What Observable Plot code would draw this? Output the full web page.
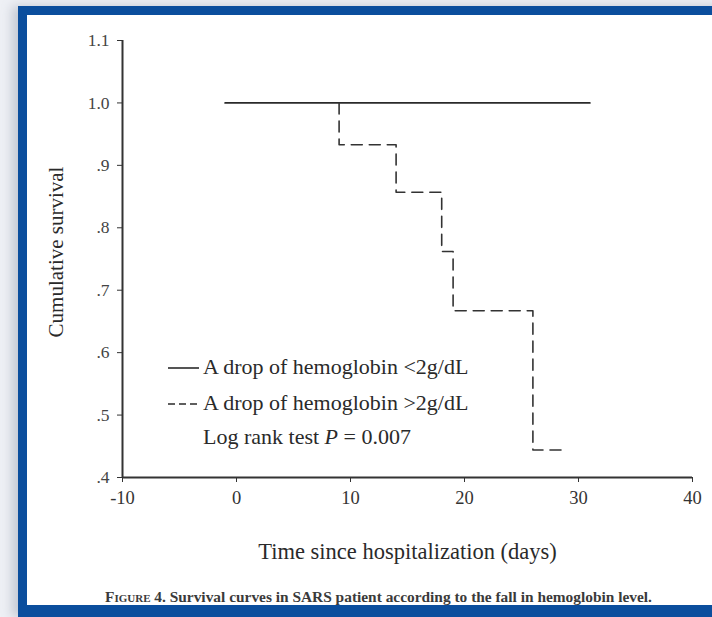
<!DOCTYPE html>
<html>
<head>
<meta charset="utf-8">
<script src="https://cdn.jsdelivr.net/npm/d3@7"></script>
<script src="https://cdn.jsdelivr.net/npm/@observablehq/plot@0.6"></script>
<style>
  html, body { margin: 0; padding: 0; width: 712px; height: 617px; overflow: hidden; background: #eef0f5; }
  #frame { position: absolute; left: 18px; top: 6px; width: 720px; height: 590px; background: #fff;
           border-left: 9px solid #0b4e9d; border-top: 9px solid #0b4e9d; border-bottom: 12px solid #0b4e9d;
           box-shadow: -6px 0 10px rgba(120,130,150,0.35); }
  #chart { position: absolute; left: 0; top: 0; }
  #chart svg { overflow: visible; }
  #legend { position: absolute; left: 0; top: 0; }
  #caption { position: absolute; left: 0; width: 757px; top: 588px; text-align: center; font-family: "Liberation Serif", serif; font-size: 15.4px; font-weight: bold; color: #3a3a3a; }
  #caption .fig { font-variant: small-caps; }
</style>
</head>
<body>
<div id="frame"></div>
<div id="chart"></div>
<svg id="legend" width="712" height="617"></svg>
<div id="caption"><span class="fig">Figure</span> 4. Survival curves in SARS patient according to the fall in hemoglobin level.</div>
<script>
// Data
const xTicks = [-10, 0, 10, 20, 30, 40];
const yTicks = [0.4, 0.5, 0.6, 0.7, 0.8, 0.9, 1.0, 1.1];

const lowDropDays = [-1, 31];
const lowDropSurvival = [1.0, 1.0];

const highDropDays = [9, 9, 14, 18, 19, 26, 29];
const highDropSurvival = [1.0, 0.933, 0.857, 0.762, 0.667, 0.444, 0.444];

const seriesLabels = ["A drop of hemoglobin <2g/dL", "A drop of hemoglobin >2g/dL"];
const testNote = ["Log rank test ", "P", " = 0.007"];
const xLabel = "Time since hospitalization (days)";
const yLabel = "Cumulative survival";

const lowDrop = lowDropDays.map((d, i) => ({day: d, s: lowDropSurvival[i]}));
const highDrop = highDropDays.map((d, i) => ({day: d, s: highDropSurvival[i]}));

const fmtY = d => d >= 1 ? d.toFixed(1) : d.toFixed(1).replace(/^0/, "");
const fmtX = d => String(d);

const chart = Plot.plot({
  width: 712,
  height: 570,
  marginLeft: 122,
  marginRight: 20,
  marginTop: 40,
  marginBottom: 93,
  x: {domain: [-10, 40]},
  y: {domain: [0.4, 1.1]},
  style: {fontFamily: "Liberation Serif, serif", fontSize: "17px", background: "transparent", color: "#333"},
  marks: [
    Plot.axisX({ticks: xTicks, tickFormat: fmtX, tickSize: 5, tickPadding: 8, stroke: "#333", fill: "#333",
      fontSize: 18.5, label: null}),
    Plot.text([xLabel], {frameAnchor: "bottom", textAnchor: "middle", dy: 81, fontSize: 22.5, fill: "#2a2a2a"}),
    Plot.axisY({ticks: yTicks, tickFormat: fmtY, tickSize: 5, tickPadding: 8, stroke: "#333", fill: "#444",
      fontSize: 17.5, label: null}),
    Plot.text([yLabel], {frameAnchor: "left", textAnchor: "middle", rotate: -90, dx: -66, dy: -7, fontSize: 21, fill: "#2a2a2a"}),
    Plot.ruleX([-10], {stroke: "#333", strokeWidth: 2}),
    Plot.ruleY([0.4], {stroke: "#333", strokeWidth: 2}),
    Plot.line(lowDrop, {x: "day", y: "s", curve: "step-after", stroke: "#2a2a2a", strokeWidth: 1.7}),
    Plot.line(highDrop, {x: "day", y: "s", curve: "step-after", stroke: "#333", strokeWidth: 1.6, strokeDasharray: "11,7"})
  ]
});
document.getElementById("chart").appendChild(chart);

// Legend overlay
const lg = d3.select("#legend");
const rowBase = [374, 410, 444];
seriesLabels.forEach((lab, i) => {
  lg.append("line").attr("x1", 168).attr("x2", 199).attr("y1", rowBase[i] - 6).attr("y2", rowBase[i] - 6)
    .attr("stroke", "#2a2a2a").attr("stroke-width", 1.6)
    .attr("stroke-dasharray", i === 1 ? "7,4" : null);
  lg.append("text").attr("x", 203).attr("y", rowBase[i])
    .attr("font-family", "Liberation Serif, serif").attr("font-size", 22).attr("fill", "#2a2a2a").text(lab);
});
const t = lg.append("text").attr("x", 203).attr("y", rowBase[2])
  .attr("font-family", "Liberation Serif, serif").attr("font-size", 22).attr("fill", "#2a2a2a");
t.append("tspan").text(testNote[0]);
t.append("tspan").attr("font-style", "italic").text(testNote[1]);
t.append("tspan").text(testNote[2]);
</script>
</body>
</html>
